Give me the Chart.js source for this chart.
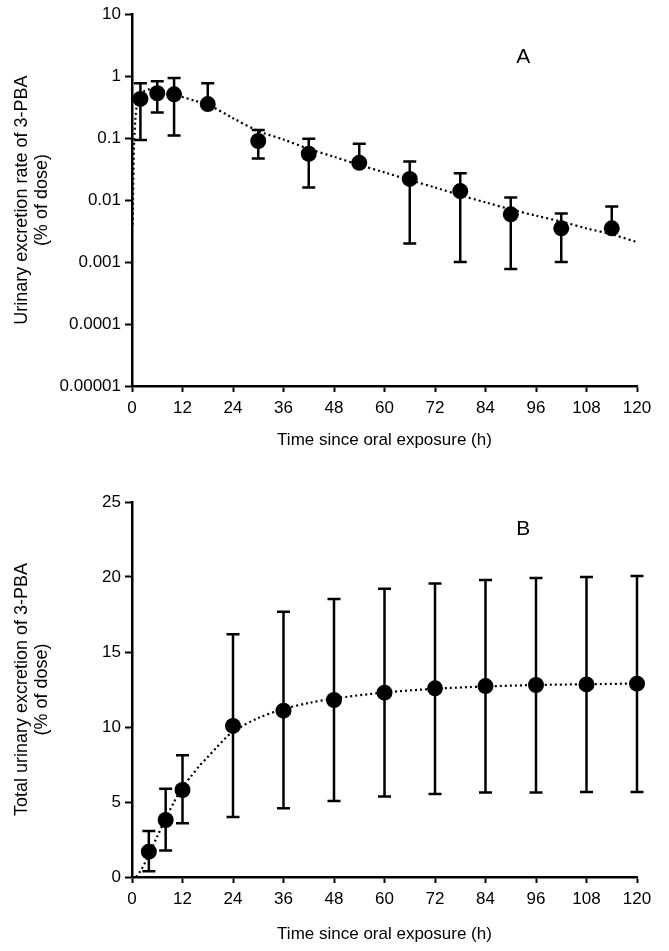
<!DOCTYPE html>
<html>
<head>
<meta charset="utf-8">
<script src="https://cdn.jsdelivr.net/npm/chart.js@4.4.1/dist/chart.umd.min.js"></script>
<style>
  html, body { margin: 0; padding: 0; background: #fff; }
  #wrap { position: relative; width: 669px; height: 951px; }
  canvas { position: absolute; left: 0; }
</style>
</head>
<body>
<div id="wrap">
  <canvas id="rate" width="669" height="462" style="top:0;width:669px;height:462px"></canvas>
  <canvas id="total" width="669" height="481" style="top:470px;width:669px;height:481px"></canvas>
</div>
<script>
// panel A - excretion rate (% of dose), log scale
const timesA = [2, 6, 10, 18, 30, 42, 54, 66, 78, 90, 102, 114];
const rateA = [0.43, 0.53, 0.51, 0.355, 0.09, 0.056, 0.040, 0.022, 0.014, 0.0059, 0.0035, 0.0035];
const rateAHi = [0.77, 0.83, 0.93, 0.77, 0.135, 0.098, 0.081, 0.042, 0.027, 0.011, 0.0061, 0.0079];
const rateALo = [0.093, 0.26, 0.11, 0.355, 0.047, 0.016, 0.040, 0.002, 0.001, 0.00077, 0.001, 0.0035];
const fitTimesA = [0.15, 0.3, 0.5, 0.8, 1.2, 2, 3, 4, 6, 8, 10, 12, 15, 18, 24, 30, 36, 42, 48, 54, 60, 66, 72, 78, 84, 90, 96, 102, 108, 114, 120];
const fitRateA = [0.004, 0.02, 0.08, 0.2, 0.35, 0.5, 0.58, 0.61, 0.6, 0.56, 0.51, 0.46, 0.4, 0.35, 0.21, 0.13, 0.095, 0.067, 0.05, 0.037, 0.028, 0.021, 0.016, 0.012, 0.0092, 0.0071, 0.0056, 0.0045, 0.0035, 0.0028, 0.0021];
const logTicksA = [0.00001, 0.0001, 0.001, 0.01, 0.1, 1, 10];

// panel B - cumulative excretion (% of dose)
const timesB = [4, 8, 12, 24, 36, 48, 60, 72, 84, 96, 108, 120];
const totalB = [1.69, 3.8, 5.8, 10.07, 11.09, 11.8, 12.29, 12.58, 12.73, 12.8, 12.84, 12.89];
const totalBHi = [3.07, 5.89, 8.11, 16.18, 17.69, 18.53, 19.22, 19.56, 19.8, 19.93, 20.0, 20.07];
const totalBLo = [0.38, 1.76, 3.58, 4.0, 4.58, 5.07, 5.36, 5.53, 5.64, 5.64, 5.66, 5.66];
const fitTimesB = [1, 2, 3, 4, 6, 8, 10, 12, 14, 16, 18, 20, 22, 24, 30, 36, 42, 48, 60, 72, 84, 96, 108, 120];
const fitTotalB = [0, 0.4, 0.9, 1.5, 2.7, 3.9, 5.0, 6.0, 6.7, 7.4, 8.0, 8.6, 9.2, 9.7, 10.6, 11.2, 11.6, 11.9, 12.3, 12.55, 12.7, 12.8, 12.85, 12.9];

const hourTicks = [0, 12, 24, 36, 48, 60, 72, 84, 96, 108, 120];

const FONT = "'Liberation Sans', Arial, sans-serif";

const errorBars = {
  id: 'errorBars',
  beforeDatasetsDraw(chart) {
    const ctx = chart.ctx;
    const xs = chart.scales.x, ys = chart.scales.y;
    chart.data.datasets.forEach(ds => {
      if (!ds.errHi) return;
      ctx.save();
      ctx.strokeStyle = '#000';
      ctx.lineWidth = 2.5;
      ds.data.forEach((p, i) => {
        const x = xs.getPixelForValue(p.x);
        const top = ys.getPixelForValue(ds.errHi[i]);
        const bot = ys.getPixelForValue(ds.errLo[i]);
        ctx.beginPath();
        ctx.moveTo(x, top); ctx.lineTo(x, bot);
        ctx.moveTo(x - 6.5, top); ctx.lineTo(x + 6.5, top);
        ctx.moveTo(x - 6.5, bot); ctx.lineTo(x + 6.5, bot);
        ctx.stroke();
      });
      ctx.restore();
    });
  }
};

const panelLabel = {
  id: 'panelLabel',
  afterDraw(chart, args, opts) {
    const ctx = chart.ctx;
    ctx.save();
    ctx.fillStyle = '#000';
    ctx.font = '21px ' + FONT;
    ctx.textAlign = 'center';
    ctx.textBaseline = 'middle';
    ctx.fillText(opts.text, chart.scales.x.getPixelForValue(opts.x), chart.scales.y.getPixelForValue(opts.y));
    ctx.restore();
  }
};

function makePanel(id, cfg) {
  return new Chart(document.getElementById(id), {
    type: 'scatter',
    data: {
      datasets: [
        {
          data: cfg.fitX.map((t, i) => ({ x: t, y: cfg.fitY[i] })),
          showLine: true,
          borderColor: '#000',
          borderWidth: 2.2,
          borderDash: [2, 3],
          pointRadius: 0,
          tension: 0.3
        },
        {
          data: cfg.x.map((t, i) => ({ x: t, y: cfg.y[i] })),
          errHi: cfg.hi,
          errLo: cfg.lo,
          clip: false,
          pointRadius: 8,
          pointBackgroundColor: '#000',
          pointBorderColor: '#000',
          pointBorderWidth: 0
        }
      ]
    },
    options: {
      responsive: false,
      animation: false,
      events: [],
      layout: { padding: { top: cfg.padTop, right: 32, left: 0, bottom: 0 } },
      plugins: {
        legend: { display: false },
        tooltip: { enabled: false },
        panelLabel: cfg.label
      },
      scales: {
        x: {
          type: 'linear',
          min: 0,
          max: 120,
          afterBuildTicks: s => { s.ticks = hourTicks.map(v => ({ value: v })); },
          afterFit: s => { s.height = cfg.xHeight; },
          ticks: { color: '#000', font: { family: FONT, size: 17 }, padding: 6 },
          grid: { drawOnChartArea: false, color: '#000', tickLength: 6, tickWidth: 2 },
          border: { color: '#000', width: 2.5 },
          title: {
            display: true,
            text: 'Time since oral exposure (h)',
            color: '#000',
            font: { family: FONT, size: 17, lineHeight: 1.18 },
            padding: { top: 0, bottom: cfg.xTitlePad }
          }
        },
        y: cfg.yScale
      }
    },
    plugins: [errorBars, panelLabel]
  });
}

const yTitleFont = { family: FONT, size: 18, lineHeight: 1.1 };

makePanel('rate', {
  x: timesA, y: rateA, hi: rateAHi, lo: rateALo,
  fitX: fitTimesA, fitY: fitRateA,
  padTop: 12, xHeight: 76, xTitlePad: 12,
  label: { text: 'A', x: 93, y: 2 },
  yScale: {
    type: 'logarithmic',
    min: 0.00001,
    max: 10,
    afterBuildTicks: s => { s.ticks = logTicksA.map(v => ({ value: v })); },
    afterFit: s => { s.width = 132; },
    ticks: { color: '#000', font: { family: FONT, size: 17 }, padding: 4, callback: v => String(v) },
    grid: { drawOnChartArea: false, color: '#000', tickLength: 7, tickWidth: 2 },
    border: { color: '#000', width: 2.5 },
    title: {
      display: true,
      text: ['Urinary excretion rate of 3-PBA', '(% of dose)'],
      color: '#000',
      font: yTitleFont,
      padding: { top: 12, bottom: 0 }
    }
  }
});

makePanel('total', {
  x: timesB, y: totalB, hi: totalBHi, lo: totalBLo,
  fitX: fitTimesB, fitY: fitTotalB,
  padTop: 32, xHeight: 74, xTitlePad: 7,
  label: { text: 'B', x: 93, y: 23.2 },
  yScale: {
    type: 'linear',
    min: 0,
    max: 25,
    ticks: { stepSize: 5, color: '#000', font: { family: FONT, size: 17 }, padding: 4 },
    afterFit: s => { s.width = 132; },
    grid: { drawOnChartArea: false, color: '#000', tickLength: 7, tickWidth: 2 },
    border: { color: '#000', width: 2.5 },
    title: {
      display: true,
      text: ['Total urinary excretion of 3-PBA', '(% of dose)'],
      color: '#000',
      font: yTitleFont,
      padding: { top: 12, bottom: 0 }
    }
  }
});
</script>
</body>
</html>
